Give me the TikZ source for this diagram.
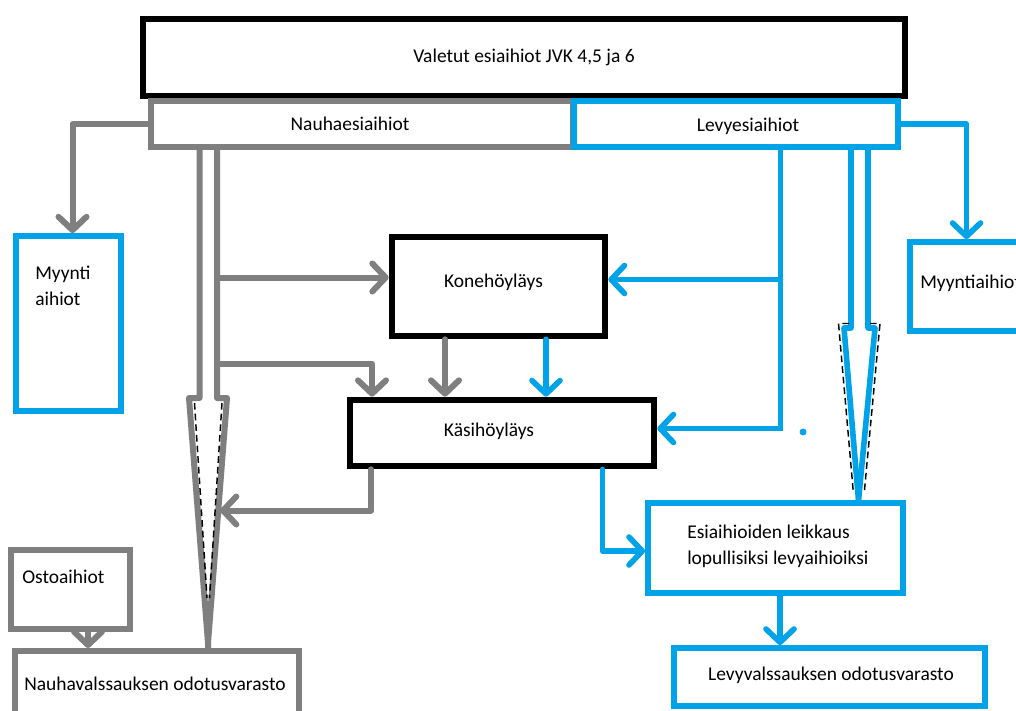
\documentclass[tikz,border=0pt]{standalone}
\usepackage{fontspec}
\setmainfont{Carlito}
\usetikzlibrary{arrows.meta,calc}
\definecolor{pblue}{HTML}{00A2E8}
\definecolor{pgray}{HTML}{7F7F7F}
\begin{document}
\begin{tikzpicture}[x=0.75pt,y=-0.75pt,
  every node/.style={font=\fontsize{14.6}{19.5}\selectfont, text=black},
  bx/.style={draw=#1, line width=4.5pt, inner sep=0pt},
  lbl/.style={inner sep=0pt, align=left},
  arr/.style={line cap=round, line join=round, -{Straight Barb[length=10pt,width=21pt,round]}},
  garr/.style={arr, draw=pgray, line width=4.5pt},
  barr/.style={arr, draw=pblue, line width=4.2pt},
  gpipe/.style={draw=pgray, line width=4.5pt, line join=round},
  bpipe/.style={draw=pblue, line width=4.2pt, line join=round},
  bline/.style={draw=pblue, line width=4.2pt},
  dsh/.style={draw=black, line width=1.1pt, dash pattern=on 5pt off 3pt}
]
\useasboundingbox (0,0) rectangle (1016,710);
\fill[white] (0,0) rectangle (1016,710);

% boxes
\node[bx=black, line width=5pt, minimum width=571.5pt, minimum height=57.75pt] (top) at (524,57.5) {Valetut esiaihiot JVK 4,5 ja 6};
\node[bx=pgray, minimum width=316.5pt, minimum height=34.5pt] (nauha) at (362,124) {};
\node[lbl] (tnauha) at (350,124) {Nauhaesiaihiot};
\node[bx=pblue, line width=4.3pt, minimum width=243pt, minimum height=34.5pt] (levy) at (736,124) {};
\node[lbl] (tlevy) at (748,126) {Levyesiaihiot};

\node[bx=pblue, line width=4.3pt, minimum width=78.75pt, minimum height=131.25pt] (myyL) at (68.5,323.5) {};
\node[lbl, anchor=west] (tmyyL) at (35,286) {Myynti\\aihiot};

\node[bx=pblue, line width=4.3pt, minimum width=93.75pt, minimum height=66.75pt] (myyR) at (972.5,286.5) {};
\node[lbl, anchor=west] (tmyyR) at (920,283) {Myyntiaihiot};

\node[bx=black, line width=5pt, minimum width=159.75pt, minimum height=74.25pt] (kone) at (498.5,286.5) {};
\node[lbl] (tkone) at (493.5,282) {Konehöyläys};

\node[bx=black, line width=5pt, minimum width=228pt, minimum height=49.5pt] (kasi) at (502,433) {};
\node[lbl] (tkasi) at (489,431) {Käsihöyläys};

\node[bx=pblue, line width=4.3pt, minimum width=191.25pt, minimum height=67.5pt] (esi) at (775.5,548) {};
\node[lbl, anchor=west] (tesi) at (687,546) {Esiaihioiden leikkaus\\lopullisiksi levyaihioiksi};

\node[bx=pblue, line width=4.3pt, minimum width=233.25pt, minimum height=43.5pt] (levyval) at (829.5,677) {};
\node[lbl] (tlevyval) at (831,675) {Levyvalssauksen odotusvarasto};

\node[bx=pgray, minimum width=89.6pt, minimum height=59.6pt] (osto) at (70.75,589.75) {};
\node[lbl, anchor=west] (tosto) at (22,577) {Ostoaihiot};

\node[bx=pgray, minimum width=213pt, minimum height=47.25pt] (nauhaval) at (157,682.5) {};
\node[lbl] (tnauhaval) at (155,684) {Nauhavalssauksen odotusvarasto};

% helper coordinates
\coordinate (gL) at (199.5,147);
\coordinate (gR) at (217,147);
\coordinate (gT) at (208,0);
\coordinate (g1) at (217,277.5);
\coordinate (g2) at (217,363.5);
\coordinate (g2c) at (372,363.5);
\coordinate (g3) at (445,0);
\coordinate (g4) at (371,0);
\coordinate (g5) at (220,510.5);
\coordinate (g6) at (88,0);
\coordinate (b0) at (780.5,431);
\coordinate (b1) at (780.5,279.5);
\coordinate (b2) at (780.5,428.5);
\coordinate (b3) at (602.5,551);
\coordinate (b4) at (780,0);
\coordinate (b5) at (546,0);
\coordinate (bL) at (851,147);
\coordinate (bR) at (868,147);
\coordinate (bT) at (858.5,0);

% gray connectors
\draw[garr] (nauha.west) -| ($(myyL.north)+(4,0)$);
\draw[gpipe] (gL) -- (199.5,398) -- (189,398) -- (208,643) -- (nauhaval.north -| gT);
\draw[gpipe] (gR) -- (217,398) -- (227,398) -- (208,643);
\draw[dsh] (194.5,403) -- (207,598);
\draw[dsh] (222,403) -- (209.5,598);
\draw[garr] (g1) -- (g1 -| kone.west);
\draw[garr] (g2) -- (g2c) -- (g2c |- kasi.north);
\draw[garr] (kone.south -| g3) -- (kasi.north -| g3);
\draw[garr] (kasi.south -| g4) |- (g5);
\draw[garr] (osto.south -| g6) -- (nauhaval.north -| g6);

% blue connectors
\draw[barr] (levy.east) -| ($(myyR.north)+(-6,0)$);
\draw[bline] (levy.south -| b0) -- (b0);
\draw[barr] (b1) -- (b1 -| kone.east);
\draw[barr] (b2) -- (b2 -| kasi.east);
\fill[pblue] (803,432) circle[radius=2.6pt];
\draw[barr] (kone.south -| b5) -- (kasi.north -| b5);
\draw[barr] (kasi.south -| b3) |- (b3 -| esi.west);
\draw[barr] (esi.south -| b4) -- (levyval.north -| b4);
\draw[bpipe] (bL) -- (851,328) -- (844,328) -- (esi.north -| bT);
\draw[bpipe] (bR) -- (868,328) -- (875,328) -- (esi.north -| bT);
\draw[dsh] (849,323.5) -- (838.5,323.5) -- (853.3,492);
\draw[dsh] (870,323.5) -- (880,323.5) -- (864.3,492);
\end{tikzpicture}
\end{document}
